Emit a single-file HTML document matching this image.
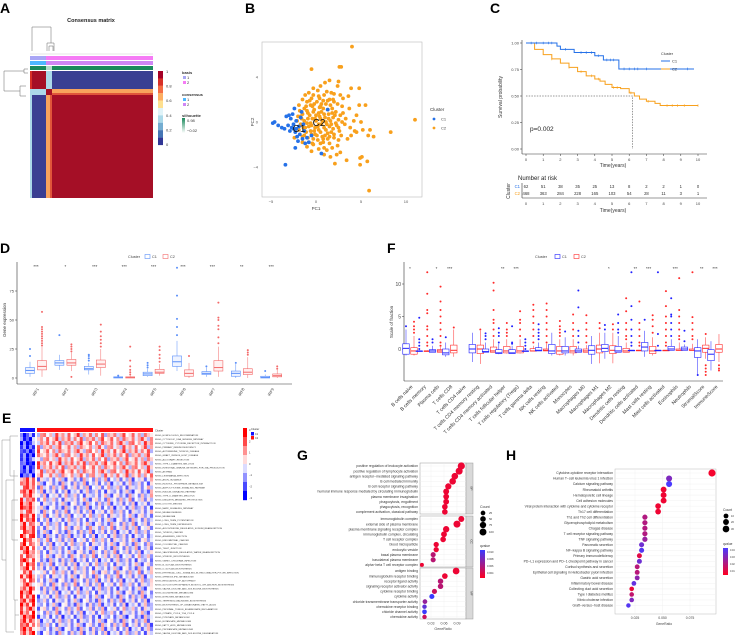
<!DOCTYPE html>
<html><head><meta charset="utf-8">
<style>
html,body{margin:0;padding:0;background:#fff;}
svg{display:block;font-family:"Liberation Sans",sans-serif;}
</style></head>
<body>
<svg id="fig" width="738" height="635" viewBox="0 0 738 635" xmlns="http://www.w3.org/2000/svg"></svg>
<script>
// ---------- DATA ----------
// Panel B (PCA)
const pcaC1 = [[-4.8,-0.1],[-4.6,0],[-4.2,-0.3],[-3.8,-0.5],[-3.5,-0.6],[-3.3,0.5],[-3,0.6],[-3.1,-0.3],[-2.8,0.3],[-2.6,0.7],[-2.5,-0.6],[-2.4,1.2],[-2.3,-0.9],[-2.2,0.1],[-2.1,-1.3],[-2,-1.7],[-1.9,-0.4],[-1.8,-1.1],[-1.7,0.4],[-1.5,-1.5],[-1.4,-0.2],[-1.3,-0.8],[-1.2,-1.9],[-1,-1.4],[-0.8,-1.8],[-0.5,-1.2],[0.6,-2.8],[-3.4,-3.8],[-2.3,-2.3],[-2.5,-0.2],[-2.7,-0.5],[-2.2,-0.6],[1.3,1.1],[-1.6,0.9],[-2.9,-0.8]];
const pcaC2 = [[4,6.7],[-0.5,4.7],[2.6,4.9],[2.8,4.9],[-0.3,3],[0.5,3.2],[1,3.5],[1.5,3.7],[2.5,3.6],[3.9,3],[4.8,3],[2.4,3.2],[0.2,2.8],[-0.8,2.6],[1.2,2.7],[2,2.5],[1.5,2],[0.8,1.9],[-1.5,2],[-1,1.8],[3,2.1],[3.7,1.2],[4.8,1.5],[5.5,1.5],[4.5,0.6],[5,0],[3,0.8],[2.5,0.2],[3.2,-0.2],[3.8,-0.5],[4.3,-0.8],[4.5,-0.9],[5.2,-0.7],[6,-0.7],[8.3,-0.9],[11,0.2],[6.4,-1.3],[5.8,-1.2],[3.5,-1.5],[2.8,-1.2],[2.5,-1.6],[2,-1.4],[1.5,-1.9],[1.8,-2.3],[2.7,-2.7],[2.3,-2.9],[1.6,-3.1],[1.2,-2.5],[0.9,-2.9],[0.3,-2.4],[-0.3,-2],[-0.5,-2.6],[-1,-2.2],[2.1,-3.7],[3.4,-3.4],[5.1,-3.1],[4.9,-3.2],[4.9,-3.8],[5.7,-3.5],[5.9,-6.1],[-1.5,-1.3],[-2,0.5],[-1.8,1],[-2.4,-1.4],[-1.3,1.2],[-0.6,1.5],[0.5,1.4],[1.8,1.2],[2.2,0.9],[1.4,0.7],[0.6,0.9],[-0.2,1.1],[-0.9,0.8],[-1.6,0.3],[-1.2,-0.5],[-0.6,-0.8],[0.1,-1.2],[0.8,-1.5],[1.3,-1],[1.9,-0.6],[2.3,-0.3],[1.6,0.1],[1,0.4],[0.4,0.5],[-0.4,0.3],[-1,-0.1],[-0.5,-0.3],[0.2,-0.4],[0.9,-0.5],[1.2,-0.2],[0.7,0.1],[0,0.1],[-0.8,-0.4],[-0.2,-0.8],[0.5,-0.9],[1.7,-0.9],[2.6,-0.8],[3.3,0.3],[2.9,1.4],[2,1.8],[1.1,1.6],[0.1,1.8],[-0.5,2.1],[-1.9,-0.7],[-1.5,-1.8],[-0.9,-1.4],[-0.3,-1.5],[0.5,-1.9],[1.3,-1.5],[3.9,-1.2],[4.2,0.1],[3.6,2.3],[0.3,2.3],[1.7,2.6],[-1.2,2.4],[2.4,-2.1],[0.9,-2.3],[-0.7,0.6],[0.3,0.8],[1.5,-0.4],[-1.3,0.1],[0.8,1.2],[-0.1,-0.5],[1.9,0.4],[-1.7,-0.2],[-0.4,1.4],[2.7,0.6],[0.6,-0.2],[-1.5,0.7],[-1.1,1.4],[-0.7,1.9],[-0.3,2.4],[0.4,2.1],[0.9,2.4],[1.3,1.9],[1.6,1.5],[2.4,1.6],[2.1,0.6],[1.7,-0.2],[1.1,-0.7],[0.3,-0.7],[-0.5,-1.1],[-1.1,-0.9],[-1.7,0.5],[-2.1,0.1],[-1.9,1.5],[-1.3,-1.2],[-0.8,-1.8],[0.2,-1.6],[1,-1.2],[2,-1.1],[2.5,-0.5],[2.9,0],[0,0.6],[-0.3,0.9],[0.4,1.3],[1.3,1.1],[1.8,0.8],[0.9,0.7],[-0.6,-0.1],[-0.1,0.3],[0.3,-0.2],[1.4,0.3],[-1.4,-0.5],[-0.9,0.3],[-0.1,-1.1],[0.7,-1.3],[1.5,-1.3],[2.2,-0.1],[1.1,0],[0.5,0.3],[-0.2,1.6],[0.6,1.6],[-1,1],[1.9,2],[2.7,2.4],[-0.4,-1.9],[0.8,-1.8]];
const pcaXTicks = [-5,0,5,10];
const pcaYTicks = [4,0,-4];

// Panel C (KM)
const kmC1Time = [0,1.8,2.0,2.8,4.0,4.5,5.4,9.4];
const kmC1Surv = [1.0,0.97,0.94,0.91,0.88,0.84,0.755,0.755];
const kmC2Time = [0,0.5,1,1.5,2,2.5,3,3.5,4,4.3,4.6,5,5.5,6,6.3,6.6,7,7.5,7.8,8,9,10];
const kmC2Surv = [1,0.94,0.89,0.85,0.81,0.77,0.73,0.69,0.66,0.64,0.61,0.58,0.57,0.53,0.5,0.47,0.45,0.43,0.41,0.41,0.41,0.41];
const kmC1Cens = [0.3,0.6,1,1.3,1.5,2.3,3.2,3.5,3.8,4.2,4.7,4.9,5.1,5.7,6,6.3,6.5,7,9.4];
const kmC2Cens = [1.5,2.5,3.2,3.8,4.2,5.1,5.3,6.1,7.1,8.2,8.5,8.8,9.2,10];
const riskTimes = [0,1,2,3,4,5,6,7,8,9,10];
const riskC1 = [62,51,38,35,25,13,8,2,2,1,0];
const riskC2 = [468,363,284,228,165,103,54,28,11,3,1];
const survTicks = [0,0.25,0.5,0.75,1];
const survTickLabels = ["0.00","0.25","0.50","0.75","1.00"];

// Panel D (IRF boxplots): [lo,q1,med,q3,hi]
const irfGenes = ["IRF1","IRF2","IRF3","IRF4","IRF5","IRF6","IRF7","IRF8","IRF9"];
const irfC1 = [[1,4,6.5,9,14],[7,11,13,15,20],[3,7,8,10,13],[0,0,0.5,1,2],[1,2,3.5,5,8],[6,10,14,19,32],[1,3,4,5.5,9],[0,1.5,4,6,12],[0,0,0.5,1.5,3]];
const irfC2 = [[1,7,10,15,27],[6,11,13,16,22],[2,9,12,15.5,25],[0,0,0.5,1,2],[2,4,5,7.5,12],[0,1.5,4,7,13],[1,6,9,15,27],[0,3,5,8,18],[0,1,2,3.5,7]];
const irfOutC1 = [[19,25],[37],[15,17,19,20],[2],[9,11,13],[37,44,51,71,95],[10],[13],[6]];
const irfOutC2 = [[28,30,32,34,36,38,40,42,44,57],[1,23,25,27,29],[27,30,33,36,40,46],[3,5,7,10,15,27],[14,17,20,24,27],[19],[30,35,42,45,50,52,65],[20,22,24],[8,10]];
const irfStars = ["***","*","***","***","***","***","***","**","***"];
const irfYTicks = [0,25,50,75];

// Panel F (immune cell fractions)
const cellTypes = ["B cells naive","B cells memory","Plasma cells","T cells CD8","T cells CD4 naive","T cells CD4 memory resting","T cells CD4 memory activated","T cells follicular helper","T cells regulatory (Tregs)","T cells gamma delta","NK cells resting","NK cells activated","Monocytes","Macrophages M0","Macrophages M1","Macrophages M2","Dendritic cells resting","Dendritic cells activated","Mast cells resting","Mast cells activated","Eosinophils","Neutrophils","StromalScore","ImmuneScore"];
const cellC1 = [[-1,-0.8,0.1,0.8,3],[-0.3,-0.3,-0.3,-0.3,-0.2],[-0.5,-0.5,-0.3,-0.1,0.5],[-1.2,-0.9,-0.6,0,1],null,[-2,-0.6,0,0.7,2.5],[-0.5,-0.5,-0.4,0,1],[-0.8,-0.7,-0.6,-0.1,0.8],[-0.7,-0.7,-0.6,-0.1,0.5],[-0.3,-0.3,-0.3,-0.3,-0.3],[-0.3,-0.3,-0.2,0.2,1],[-1,-0.7,-0.3,0.7,2.5],[-1,-0.6,-0.3,0.4,1.8],[-0.5,-0.5,-0.3,0,0.5],[-2.3,-0.8,-0.2,0.5,2],[-1.5,-0.4,0.1,0.7,2.5],[-0.5,-0.5,-0.3,0.4,2],[-0.2,-0.2,-0.2,-0.2,-0.2],[-1.2,-0.3,0.3,1,2.8],[-0.2,-0.2,-0.2,-0.2,-0.2],[-0.2,-0.2,0,0.4,1.5],[-0.2,-0.2,0,0.3,0.7],[-4,-1.3,-0.3,0.2,1.5],[-3.3,-1.8,-0.8,-0.1,1.2]];
const cellC2 = [[-1,-0.8,-0.3,0.2,2],[-0.3,-0.3,-0.3,-0.3,-0.2],[-0.5,-0.5,-0.3,-0.1,0.3],[-1.2,-0.6,-0.2,0.6,3],null,[-2.3,-0.7,0,0.6,2.8],[-0.5,-0.5,-0.3,0.3,1.5],[-0.7,-0.6,-0.3,0.4,1.5],[-0.7,-0.6,-0.3,0.4,1.5],[-0.3,-0.3,-0.3,0.05,0.5],[-0.3,-0.3,-0.2,0,0.8],[-1,-0.8,-0.3,0.4,1.5],[-1,-0.6,-0.3,0.4,1.5],[-0.5,-0.5,-0.3,0,0.6],[-2.2,-0.6,0,0.6,2.5],[-2.2,-0.7,-0.2,0.5,2.5],[-0.5,-0.5,-0.3,0.1,1],[-0.2,-0.2,-0.2,-0.2,-0.2],[-1,-0.7,-0.3,0.4,1.8],[-0.2,-0.2,-0.2,-0.2,-0.2],[-0.2,-0.2,-0.2,0,1],[-0.2,-0.2,-0.2,0,0.8],[-1.5,-0.5,0.1,0.6,1.8],[-2,-0.5,0,0.7,2.3]];
const cellOutC1 = [[3.5],[0,0.5,1,1.5,4.8],[1,1.5],[1.8],[],[],[1.5,2,2.4],[1,2,2.5,3.2],[0.8,1,3.5],[0,0.5,1,1.5],[1.5,2,2.5,3,3.8],[],[2.7],[1,2,2.8,6.4,9],[],[3,3.7],[2.5,3,4,5.3],[0.5,1,2,3,4.5,6.6,11.8],[4.5],[0.5,2.3,11.8],[2,3,4,5,5.3,7.8],[1.2,2.8],[-4],[]];
const cellOutC2 = [[2.5,3,3.5,4.2],[0.5,1,2,3,3.5,5.5,6,8.5,11.8],[0.5,1,2,3,4,5,6,7.3,9.6],[3.3],[],[3],[2,3,4,4.5,6,9,10.2],[2,2.5,3,4],[2,3,4,4.5,5.8],[1,2,3,4,5,6,6.8],[1,2,3,4,5,6,7],[2,2.5,3,3.5,4.3],[2,3,4,5.3],[1,2,3,4,5.2],[3.2,4],[3,3.8],[1.5,2,3,4,5.8,7.8],[0.5,1,2,3,4,7.3],[2.5,3.5,4.5,5.2],[0.5,1,2,3,4,5,6.6,8.9],[1.5,2,3,4,5,6,10.9],[1.5,2,3,4,4.9,11.8],[-2.5,-3,-3.5,-4,2.3],[-2.5,-3,-3.3]];
const cellStars = ["*","","*","***","","","","**","***","","","","","","","*","","**","***","","***","","**","***"];
const fracYTicks = [0,5,10];

// Panel E (GSVA heatmap)
const pathways = ["KEGG_HOMOLOGOUS_RECOMBINATION","KEGG_CYTOSOLIC_DNA_SENSING_PATHWAY","KEGG_CYTOKINE_CYTOKINE_RECEPTOR_INTERACTION","KEGG_PRIMARY_IMMUNODEFICIENCY","KEGG_AUTOIMMUNE_THYROID_DISEASE","KEGG_GRAFT_VERSUS_HOST_DISEASE","KEGG_ALLOGRAFT_REJECTION","KEGG_TYPE_I_DIABETES_MELLITUS","KEGG_INTESTINAL_IMMUNE_NETWORK_FOR_IGA_PRODUCTION","KEGG_ASTHMA","KEGG_LEISHMANIA_INFECTION","KEGG_AXON_GUIDANCE","KEGG_INOSITOL_PHOSPHATE_METABOLISM","KEGG_ADIPOCYTOKINE_SIGNALING_PATHWAY","KEGG_INSULIN_SIGNALING_PATHWAY","KEGG_TYPE_II_DIABETES_MELLITUS","KEGG_UBIQUITIN_MEDIATED_PROTEOLYSIS","KEGG_OOCYTE_MEIOSIS","KEGG_MAPK_SIGNALING_PATHWAY","KEGG_MELANOGENESIS","KEGG_MELANOMA","KEGG_LONG_TERM_POTENTIATION","KEGG_LONG_TERM_DEPRESSION","KEGG_ALDOSTERONE_REGULATED_SODIUM_REABSORPTION","KEGG_THYROID_CANCER","KEGG_ADHERENS_JUNCTION","KEGG_ENDOMETRIAL_CANCER","KEGG_COLORECTAL_CANCER","KEGG_TIGHT_JUNCTION","KEGG_VASOPRESSIN_REGULATED_WATER_REABSORPTION","KEGG_STEROID_BIOSYNTHESIS","KEGG_VIBRIO_CHOLERAE_INFECTION","KEGG_N_GLYCAN_BIOSYNTHESIS","KEGG_O_GLYCAN_BIOSYNTHESIS","KEGG_EPITHELIAL_CELL_SIGNALING_IN_HELICOBACTER_PYLORI_INFECTION","KEGG_SPHINGOLIPID_METABOLISM","KEGG_REGULATION_OF_AUTOPHAGY","KEGG_GLYCOSYLPHOSPHATIDYLINOSITOL_GPI_ANCHOR_BIOSYNTHESIS","KEGG_VALINE_LEUCINE_AND_ISOLEUCINE_BIOSYNTHESIS","KEGG_GLUTATHIONE_METABOLISM","KEGG_NITROGEN_METABOLISM","KEGG_TERPENOID_BACKBONE_BIOSYNTHESIS","KEGG_BIOSYNTHESIS_OF_UNSATURATED_FATTY_ACIDS","KEGG_PROXIMAL_TUBULE_BICARBONATE_RECLAMATION","KEGG_CITRATE_CYCLE_TCA_CYCLE","KEGG_PYRUVATE_METABOLISM","KEGG_BUTANOATE_METABOLISM","KEGG_FATTY_ACID_METABOLISM","KEGG_PROPANOATE_METABOLISM","KEGG_VALINE_LEUCINE_AND_ISOLEUCINE_DEGRADATION"];
const rowMeanC1 = [-2.2,-2.0,-2.4,-2.1,-2.3,-2.2,-2.0,-2.4,-2.1,-2.2,-1.8,1.4,1.7,1.5,1.8,1.6,1.3,1.5,1.9,1.4,1.6,1.7,1.5,1.3,1.6,1.8,1.4,1.5,1.7,1.6,1.4,1.8,1.5,1.6,1.3,1.7,1.5,1.4,1.9,1.6,1.5,1.7,1.8,1.4,1.6,1.9,1.7,1.5,1.8,1.6];
const rowMeanC2 = [0.7,0.8,0.9,0.6,0.8,0.7,0.6,0.9,0.7,0.8,0.5,-0.5,-0.6,-0.4,-0.7,-0.5,-0.4,-0.6,-0.7,-0.5,-0.4,-0.6,-0.5,-0.3,-0.6,-0.7,-0.4,-0.5,-0.6,-0.5,-0.4,-0.7,-0.5,-0.6,-0.3,-0.5,-0.6,-0.4,-0.7,-0.5,-0.6,-0.6,-0.7,-0.4,-0.5,-0.8,-0.6,-0.5,-0.7,-0.6];
const colJitter = [0.9,-1.2,0.3,1.6,-0.4,-1.8,0.7,1.1,-0.9,0.2,-1.5,1.8,-0.2,0.6,-1.1,1.4,-0.7,0.1,1.9,-1.6,0.5,-0.3,1.2,-1.3,0.8,-0.6,1.5,-1.9,0.4,-0.1,1.0,-1.4,0.3,1.7,-0.8,-0.2,1.3,-1.0,0.6,-1.7,1.1,0.0,-0.5];

// Panel G (GO enrichment)
const goTerms = ["positive regulation of leukocyte activation","positive regulation of lymphocyte activation","antigen receptor−mediated signaling pathway","B cell mediated immunity","B cell receptor signaling pathway","humoral immune response mediated by circulating immunoglobulin","plasma membrane invagination","phagocytosis, engulfment","phagocytosis, recognition","complement activation, classical pathway","immunoglobulin complex","external side of plasma membrane","plasma membrane signaling receptor complex","immunoglobulin complex, circulating","T cell receptor complex","blood microparticle","endocytic vesicle","basal plasma membrane","basolateral plasma membrane","alpha−beta T cell receptor complex","antigen binding","immunoglobulin receptor binding","receptor ligand activity","signaling receptor activator activity","cytokine receptor binding","cytokine activity","chloride transmembrane transporter activity","chemokine receptor binding","chloride channel activity","chemokine activity"];
const goRatio = [0.1,0.095,0.085,0.08,0.07,0.065,0.065,0.065,0.062,0.062,0.1,0.09,0.065,0.06,0.058,0.042,0.042,0.035,0.035,0.009,0.088,0.062,0.052,0.052,0.038,0.032,0.016,0.015,0.015,0.015];
const goCount = [110,100,85,85,70,60,55,55,50,50,60,100,75,55,50,40,40,35,35,12,90,50,45,45,35,35,25,20,25,20];
const goQ = [0.001,0.001,0.001,0.001,0.001,0.001,0.001,0.001,0.001,0.001,0.001,0.001,0.001,0.001,0.001,0.001,0.001,0.004,0.004,0.001,0.001,0.001,0.004,0.004,0.003,0.011,0.006,0.009,0.011,0.003];
const goFacets = ["BP","CC","MF"];

// Panel H (KEGG enrichment)
const keggTerms = ["Cytokine-cytokine receptor interaction","Human T−cell leukemia virus 1 infection","Calcium signaling pathway","Rheumatoid arthritis","Hematopoietic cell lineage","Cell adhesion molecules","Viral protein interaction with cytokine and cytokine receptor","Th17 cell differentiation","Th1 and Th2 cell differentiation","Glycerophospholipid metabolism","Chagas disease","T cell receptor signaling pathway","TNF signaling pathway","Pancreatic secretion","NF−kappa B signaling pathway","Primary immunodeficiency","PD−L1 expression and PD−1 checkpoint pathway in cancer","Cortisol synthesis and secretion","Epithelial cell signaling in Helicobacter pylori infection","Gastric acid secretion","Inflammatory bowel disease","Collecting duct acid secretion","Type I diabetes mellitus","Vibrio cholerae infection","Graft−versus−host disease"];
const keggRatio = [0.095,0.056,0.056,0.051,0.051,0.051,0.046,0.046,0.034,0.034,0.034,0.034,0.034,0.031,0.031,0.029,0.029,0.027,0.027,0.027,0.024,0.022,0.022,0.022,0.019];
const keggCount = [38,22,22,20,20,20,18,18,13,13,13,13,13,12,12,11,11,10,10,10,9,8,8,8,7];
const keggQ = [0.002,0.025,0.035,0.003,0.003,0.003,0.003,0.003,0.015,0.015,0.015,0.015,0.02,0.028,0.033,0.006,0.028,0.014,0.014,0.022,0.03,0.004,0.012,0.025,0.033];

// ---------- HELPERS ----------
const svg = document.getElementById('fig');
const NS = 'http://www.w3.org/2000/svg';
function mk(tag, attrs, parent){
  const e = document.createElementNS(NS, tag);
  for (const k in attrs) e.setAttribute(k, attrs[k]);
  (parent||svg).appendChild(e);
  return e;
}
function tx(x,y,s,size,anchor,fill,rot,weight){
  const e = mk('text',{x:x,y:y,'font-size':size,'text-anchor':anchor||'start',fill:fill||'#333'});
  if(weight) e.setAttribute('font-weight',weight);
  if(rot) e.setAttribute('transform','rotate('+rot+' '+x+' '+y+')');
  e.textContent = s;
  return e;
}
function line(x1,y1,x2,y2,stroke,w,dash){
  const e = mk('line',{x1:x1,y1:y1,x2:x2,y2:y2,stroke:stroke||'#333','stroke-width':w||0.6});
  if(dash) e.setAttribute('stroke-dasharray',dash);
  return e;
}
function lerpColor(a,b,t){
  const pa=[parseInt(a.slice(1,3),16),parseInt(a.slice(3,5),16),parseInt(a.slice(5,7),16)];
  const pb=[parseInt(b.slice(1,3),16),parseInt(b.slice(3,5),16),parseInt(b.slice(5,7),16)];
  return 'rgb('+pa.map((v,i)=>Math.round(v+(pb[i]-v)*t)).join(',')+')';
}
let el;

// ---------- PANEL LABELS ----------
[['A',0,13],['B',245,13],['C',490,13],['D',0,253],['F',387,253],['E',2,423],['G',297,460],['H',506,460]].forEach(p=>{
  el = tx(p[1],p[2],p[0],14,'start','#000',0,'bold');
  
  
});

// ---------- PANEL A ----------
el = tx(91,22,'Consensus matrix',5.5,'middle','#222',0,'bold');


[[32,27,51,27],[32,27,32,51],[51,27,51,43],[47,43,54,43],[47,43,47,51],[54,43,54,51],[49,46,53,46],[49,46,49,51],[53,46,53,51]].forEach(d=>{
  el = line(d[0],d[1],d[2],d[3],'#666',0.5);
  
  
});
[[4,71,4,91],[4,71,24,71],[4,91,20,91],[20,86,20,96],[20,86,26,86],[20,96,26,96],[24,69,24,73],[24,69,28,69],[24,73,28,73]].forEach(d=>{
  el = line(d[0],d[1],d[2],d[3],'#666',0.5);
  
  
});
line(30,54,153,54,'#ccc',0.5);
[[56,'#a9a6f5','#f57bf5','basis'],[61,'#4db8ff','#cf86f5','consensus'],[66,'#1a8a5c','#1a8a5c','silhouette']].forEach(a=>{
  el = mk('rect',{x:30,y:a[0],width:16,height:4,fill:a[1]});
  
  
  el = mk('rect',{x:46,y:a[0],width:107,height:4,fill:a[2]});
  
  
});
el = mk('rect',{x:46,y:66,width:6,height:4,fill:'#b5dccb'});


const RED='#a50f26', DBL='#3a3f92', ORG='#f8a35c', LBL='#abd9e9';
[[30,71,16,18,RED],[52,71,101,18,DBL],[30,95,16,103,DBL],[52,95,101,103,RED],
 [46,71,6,18,LBL],[30,89,16,6,LBL],[52,89,101,4,ORG],[52,93,101,2,'#e0553a'],
 [46,95,4,103,ORG],[50,95,2,103,'#e0553a'],[46,89,6,6,RED],[30,95,2,103,LBL],[30,71,2,18,'#d73027']].forEach(b=>{
  el = mk('rect',{x:b[0],y:b[1],width:b[2],height:b[3],fill:b[4]});
  
  
});
const cbColors = ['#a50026','#d73027','#f46d43','#fdae61','#fee090','#e0f3f8','#abd9e9','#74add1','#4575b4','#313695'];
cbColors.forEach((c,i)=>{
  el = mk('rect',{x:158,y:71+i*7.4,width:5,height:7.5,fill:c});
  
  
});
['1','0.8','0.6','0.4','0.2','0'].forEach((s,i)=>{
  el = tx(166,73+i*14.6,s,4,'start','#333');
  
  
});
[['basis',182,74,'bold'],['1',187,79],['2',187,84],['consensus',182,96,'bold'],['1',187,101],['2',187,106],['silhouette',182,117,'bold'],['0.98',187,122],['−0.02',187,132]].forEach(t=>{
  el = tx(t[1],t[2],t[0],4,'start','#333',0,t[3]);
  
  
});
[[183,76,'#a9a6f5'],[183,81,'#f57bf5'],[183,98,'#4db8ff'],[183,103,'#cf86f5']].forEach(s=>{
  el = mk('rect',{x:s[0],y:s[1],width:3,height:3,fill:s[2]});
  
  
});
const sg = mk('defs',{});
const lg = mk('linearGradient',{id:'silg',x1:0,y1:0,x2:0,y2:1},sg);
mk('stop',{offset:0,'stop-color':'#1a8a5c'},lg); mk('stop',{offset:1,'stop-color':'#ffffff'},lg);
el = mk('rect',{x:182,y:118,width:3,height:15,fill:'url(#silg)'});



// ---------- PANEL B ----------
const bx = v => 316 + 9*v, by = v => 122 - 11.25*v;
el = mk('rect',{x:262,y:42,width:160,height:155,fill:'#fff',stroke:'#bbb','stroke-width':0.6});


pcaXTicks.forEach(t=>{
  el = tx(bx(t),203,String(t).replace('-','−'),4,'middle','#555');
  
  
});
pcaYTicks.forEach(t=>{
  el = tx(258,by(t)+1.5,String(t).replace('-','−'),4,'end','#555');
  
  
});
el = tx(316,210,'PC1',4.5,'middle','#444');


el = tx(254,122,'PC2',4.5,'middle','#444',-90);


pcaC2.forEach(p=>{
  el = mk('circle',{cx:bx(p[0]),cy:by(p[1]),r:1.9,fill:'#f8a01c'});
  
  
});
pcaC1.forEach(p=>{
  el = mk('circle',{cx:bx(p[0]),cy:by(p[1]),r:1.9,fill:'#2571e8'});
  
  
});
el = tx(299,132,'C1',10,'middle','#111');


el = tx(319,126,'C2',10,'middle','#111');


el = tx(430,111,'Cluster',4.5,'start','#333');


[['C1','#2571e8',119],['C2','#f8a01c',128]].forEach(l=>{
  el = mk('circle',{cx:434,cy:l[2],r:1.4,fill:l[1]});
  
  
  el = tx(441,l[2]+1.5,l[0],4,'start','#444');
  
  
});

// ---------- PANEL C ----------
const cx = t => 526 + 17.2*t, cy = p => 149 - 106*p;
line(522,40,522,154,'#333',0.6); line(522,154,707,154,'#333',0.6);
survTicks.forEach((t,i)=>{
  line(520,cy(t),522,cy(t),'#333',0.5);
  el = tx(519,cy(t)+1.5,survTickLabels[i],4,'end','#444');
  
  
});
riskTimes.forEach(t=>{
  line(cx(t),154,cx(t),156,'#333',0.5);
  el = tx(cx(t),161,String(t),4,'middle','#444');
  
  
});
el = tx(613,167,'Time(years)',5,'middle','#333');


el = tx(502,97,'Survival probability',5,'middle','#333',-90);


function stepPath(ts,ss){
  let d='M'+cx(ts[0])+' '+cy(ss[0]);
  for(let i=1;i<ts.length;i++){ d+=' H'+cx(ts[i])+' V'+cy(ss[i]); }
  return d;
}
function survAt(ts,ss,t){ let v=ss[0]; for(let i=0;i<ts.length;i++){ if(ts[i]<=t) v=ss[i]; } return v; }
el = mk('path',{d:'M'+cx(0)+' '+cy(0.5)+' H'+cx(6.2)+' V'+cy(0),fill:'none',stroke:'#333','stroke-width':0.5,'stroke-dasharray':'1.5,1.2'});


el = mk('path',{d:stepPath(kmC2Time,kmC2Surv),fill:'none',stroke:'#f8a01c','stroke-width':1});


el = mk('path',{d:stepPath(kmC1Time,kmC1Surv),fill:'none',stroke:'#2571e8','stroke-width':1});


kmC1Cens.forEach(t=>{
  el = line(cx(t),cy(survAt(kmC1Time,kmC1Surv,t))-1.3,cx(t),cy(survAt(kmC1Time,kmC1Surv,t))+1.3,'#2571e8',0.6);
  
  
});
kmC2Cens.forEach(t=>{
  el = line(cx(t),cy(survAt(kmC2Time,kmC2Surv,t))-1.3,cx(t),cy(survAt(kmC2Time,kmC2Surv,t))+1.3,'#f8a01c',0.6);
  
  
});
el = tx(530,131,'p=0.002',6.5,'start','#222');


el = tx(661,55,'Cluster',3.8,'start','#333');


[['C1','#2571e8',61],['C2','#f8a01c',69]].forEach(l=>{
  el = line(661,l[2],670,l[2],l[1],1);
  
  
  el = tx(672,l[2]+1.5,l[0],4,'start','#333');
  
  
});
el = line(682,69,694,69,'#2571e8',1);


el = tx(518,180,'Number at risk',6,'start','#222');


riskTimes.forEach((t,i)=>{
  el = tx(cx(t),188,String(riskC1[i]),4.2,'middle','#333');
  
  
  el = tx(cx(t),195,String(riskC2[i]),4.2,'middle','#333');
  
  
  el = tx(cx(t),205,String(t),4,'middle','#444');
  
  
});
line(522,183,522,198,'#333',0.6); line(522,198,707,198,'#333',0.6);
el = tx(520,188,'C1',4.2,'end','#2571e8');


el = tx(520,195,'C2',4.2,'end','#f8a01c');


el = tx(510,191,'Cluster',5,'middle','#333',-90);


el = tx(613,212,'Time(years)',5,'middle','#333');



// ---------- BOX HELPER ----------
function drawBox(xc,w,st,outs,ys,col,fill,name){
  if(!st) return;
  el = line(xc,ys(st[0]),xc,ys(st[1]),col,0.5);
  
  
  el = line(xc,ys(st[3]),xc,ys(st[4]),col,0.5);
  
  
  el = mk('rect',{x:xc-w/2,y:ys(st[3]),width:w,height:Math.max(0.6,ys(st[1])-ys(st[3])),fill:fill,stroke:col,'stroke-width':0.6});
  
  
  el = line(xc-w/2,ys(st[2]),xc+w/2,ys(st[2]),col,1);
  
  
  outs.forEach(o=>{
    el = mk('circle',{cx:xc,cy:ys(o),r:1,fill:col});
    
    
  });
}

// ---------- PANEL D ----------
const dx = g => 36 + 29.4*g, dy = v => 378 - 1.16*v;
line(17,262,17,384,'#333',0.6); line(17,384,292,384,'#333',0.6);
irfYTicks.forEach(t=>{
  line(15,dy(t),17,dy(t),'#333',0.5);
  el = tx(14,dy(t)+1.5,String(t),4,'end','#444');
  
  
});
el = tx(6,320,'Gene expression',4.5,'middle','#333',-90);


irfGenes.forEach((g,i)=>{
  drawBox(dx(i)-6,9,irfC1[i],irfOutC1[i],dy,'#5b8ff9','#eef3ff','irf-c1-'+g.toLowerCase());
  drawBox(dx(i)+6,9,irfC2[i],irfOutC2[i],dy,'#f36a6a','#fff0f0','irf-c2-'+g.toLowerCase());
  el = tx(dx(i),268,irfStars[i],4.5,'middle','#333');
  
  
  el = tx(dx(i)+3,389,g,4,'end','#444',-60);
  
  
});
el = tx(128,258,'Cluster',3.8,'start','#444');


[['C1','#5b8ff9',145],['C2','#f36a6a',163]].forEach(l=>{
  el = mk('rect',{x:l[2],y:254.5,width:5,height:4,fill:'#fff',stroke:l[1],'stroke-width':0.6});
  
  
  el = tx(l[2]+7,258,l[0],3.8,'start','#444');
  
  
});

// ---------- PANEL F ----------
const fx = i => 410 + 13.26*i, fy = v => 349 - 6.5*v;
line(404,262,404,381,'#333',0.6); line(404,381,723,381,'#333',0.6);
fracYTicks.forEach(t=>{
  line(402,fy(t),404,fy(t),'#333',0.5);
  el = tx(401,fy(t)+2,String(t),5,'end','#444');
  
  
});
el = tx(393,322,'Scale of fraction',4.5,'middle','#333',-90);


cellTypes.forEach((c,i)=>{
  drawBox(fx(i)-4,6.5,cellC1[i],cellOutC1[i],fy,'#2020ff','#fff','cell-c1');
  drawBox(fx(i)+4,6.5,cellC2[i],cellOutC2[i],fy,'#ff2a2a','#fff','cell-c2');
  if(cellStars[i]){
    el = tx(fx(i),270,cellStars[i],4.5,'middle','#333');
    
    
  }
  el = tx(fx(i)+3,387,c,5,'end','#333',-45);
  
  
});
el = tx(535,258,'Cluster',3.8,'start','#444');


[['C1','#2020ff',555],['C2','#ff2a2a',574]].forEach(l=>{
  el = mk('rect',{x:l[2],y:254.5,width:5,height:4,fill:'#fff',stroke:l[1],'stroke-width':0.6});
  
  
  el = tx(l[2]+7,258,l[0],3.8,'start','#444');
  
  
});

// ---------- PANEL E ----------
el = mk('rect',{x:20,y:428,width:15,height:4,fill:'#1010ff'});


el = mk('rect',{x:37,y:428,width:116,height:4,fill:'#ff1010'});


el = tx(155,431.5,'Cluster',2.6,'start','#333');


const nR = pathways.length, rh = (635-433)/nR;
const nC1 = 5, nC2 = 38;
function heatCol(v){
  v = Math.max(-3,Math.min(3,v));
  return v<0 ? lerpColor('#ffffff','#0000ff',-v/3) : lerpColor('#ffffff','#ff0000',v/3);
}
for(let r=0;r<nR;r++){
  for(let c=0;c<nC1+nC2;c++){
    const isC1 = c<nC1;
    const v = (isC1?rowMeanC1[r]:rowMeanC2[r]) + colJitter[(c + r*7) % colJitter.length]*0.9;
    const x = isC1 ? 20 + c*3 : 37 + (c-nC1)*(116/nC2);
    el = mk('rect',{x:x,y:433+r*rh,width:isC1?3.05:116/nC2+0.05,height:rh+0.05,fill:heatCol(v)});
    
    
  }
  el = tx(155,433+r*rh+rh*0.75,pathways[r],2.2,'start','#333');
  
  
}
el = mk('rect',{x:35,y:433,width:2,height:202,fill:'#fff'});


[[2,440,2,560],[2,440,10,440],[2,560,6,560],[10,436,10,476],[10,436,18,436],[10,476,18,476],[6,480,6,632],[6,480,14,480],[6,632,14,632],[14,470,14,600],[14,600,18,600],[12,520,18,520],[12,500,12,540],[12,500,18,500],[12,540,18,540],[15,600,15,630],[15,615,19,615]].forEach(d=>{
  el = line(d[0],d[1],d[2],d[3],'#777',0.4);
  
  
});
for(let i=0;i<8;i++){
  const g = mk('rect',{x:243,y:428+i*9,width:4,height:9.2,fill:heatCol(3-i*6/7)});
  
  
}
['3','2','1','0','−1','−2','−3'].forEach((s,i)=>{
  el = tx(249,431+i*11.3,s,2.6,'start','#333');
  
  
});
el = tx(251,430,'Cluster',2.6,'start','#333');


[['C1','#1010ff',432],['C2','#ff1010',436]].forEach(l=>{
  el = mk('rect',{x:251,y:l[2],width:3,height:3.5,fill:l[1]});
  
  
  el = tx(255,l[2]+3,l[0],2.4,'start','#333');
  
  
});

// ---------- PANEL G ----------
const gx = r => 431 + (r-0.03)*433;
const gPanelTop = [463,516,568];
const gy = i => gPanelTop[Math.floor(i/10)] + 3 + (i%10)*5.1;
const gr = n => 1.2 + Math.sqrt(n/110)*2.4;
const gCol = q => lerpColor('#ff0020','#3a3aff',Math.min(1,q/0.011));
gPanelTop.forEach((top,k)=>{
  el = mk('rect',{x:420,y:top,width:46,height:51,fill:'#fff',stroke:'#999','stroke-width':0.5});
  
  
  [0.03,0.06,0.09].forEach(t=>{ line(gx(t),top,gx(t),top+51,'#eee',0.4); });
  el = mk('rect',{x:466,y:top,width:7,height:51,fill:'#d9d9d9',stroke:'#999','stroke-width':0.5});
  
  
  el = tx(470.5,top+25.5,goFacets[k],3,'middle','#333',90);
  
  
});
goTerms.forEach((t,i)=>{
  line(420,gy(i),466,gy(i),'#eee',0.4);
  el = mk('circle',{cx:gx(goRatio[i]),cy:gy(i),r:gr(goCount[i]),fill:gCol(goQ[i])});
  
  
  el = tx(418,gy(i)+1.2,t,3.4,'end','#333');
  
  
});
[[0.03,'0.03'],[0.06,'0.06'],[0.09,'0.09']].forEach(t=>{
  el = tx(gx(t[0]),624.5,t[1],3.6,'middle','#444');
  
  
});
el = tx(443,630,'GeneRatio',3.6,'middle','#444');


el = tx(480,508,'Count',3.6,'start','#333');


[[25,513],[50,519],[75,525],[100,532]].forEach(c=>{
  el = mk('circle',{cx:483,cy:c[1],r:gr(c[0]),fill:'#000'});
  
  
  el = tx(489,c[1]+1,String(c[0]),2.8,'start','#333');
  
  
});
el = tx(480,547,'qvalue',3.4,'start','#333');


const gg = mk('linearGradient',{id:'qg',x1:0,y1:0,x2:0,y2:1},sg);
mk('stop',{offset:0,'stop-color':'#3a3aff'},gg); mk('stop',{offset:1,'stop-color':'#ff0020'},gg);
el = mk('rect',{x:480,y:550,width:5,height:28,fill:'url(#qg)'});


['0.010','0.008','0.006','0.004'].forEach((s,i)=>{
  el = tx(487,553+i*7,s,2.6,'start','#333');
  
  
});

// ---------- PANEL H ----------
const hx = r => 635 + (r-0.025)*1100, hy = i => 473 + 5.52*i;
const hr = n => 1.2 + Math.sqrt(n/38)*2.4;
const hCol = q => lerpColor('#ff0020','#4a3aff',Math.min(1,q/0.035));
el = mk('rect',{x:615,y:469,width:101,height:145,fill:'#fff',stroke:'#bbb','stroke-width':0.5});


[0.025,0.05,0.075].forEach(t=>{ line(hx(t),469,hx(t),614,'#eee',0.4); });
keggTerms.forEach((t,i)=>{
  line(615,hy(i),716,hy(i),'#eee',0.4);
  el = mk('circle',{cx:hx(keggRatio[i]),cy:hy(i),r:hr(keggCount[i]),fill:hCol(keggQ[i])});
  
  
  el = tx(613,hy(i)+1.2,t,3.4,'end','#333');
  
  
});
[[0.025,'0.025'],[0.05,'0.050'],[0.075,'0.075']].forEach(t=>{
  el = tx(hx(t[0]),619,t[1],3.4,'middle','#444');
  
  
});
el = tx(664,625,'GeneRatio',3.4,'middle','#444');


el = tx(723,511,'Count',3.4,'start','#333');


[[10,516],[20,522],[30,529]].forEach(c=>{
  el = mk('circle',{cx:726,cy:c[1],r:hr(c[0]),fill:'#000'});
  
  
  el = tx(731,c[1]+1,String(c[0]),2.6,'start','#333');
  
  
});
el = tx(723,545,'qvalue',3.2,'start','#333');


const hg = mk('linearGradient',{id:'hqg',x1:0,y1:0,x2:0,y2:1},sg);
mk('stop',{offset:0,'stop-color':'#4a3aff'},hg); mk('stop',{offset:1,'stop-color':'#ff0020'},hg);
el = mk('rect',{x:723,y:548,width:5,height:27,fill:'url(#hqg)'});


['0.04','0.03','0.02','0.01'].forEach((s,i)=>{
  el = tx(730,551+i*7,s,2.4,'start','#333');
  
  
});
</script>
</body></html>
